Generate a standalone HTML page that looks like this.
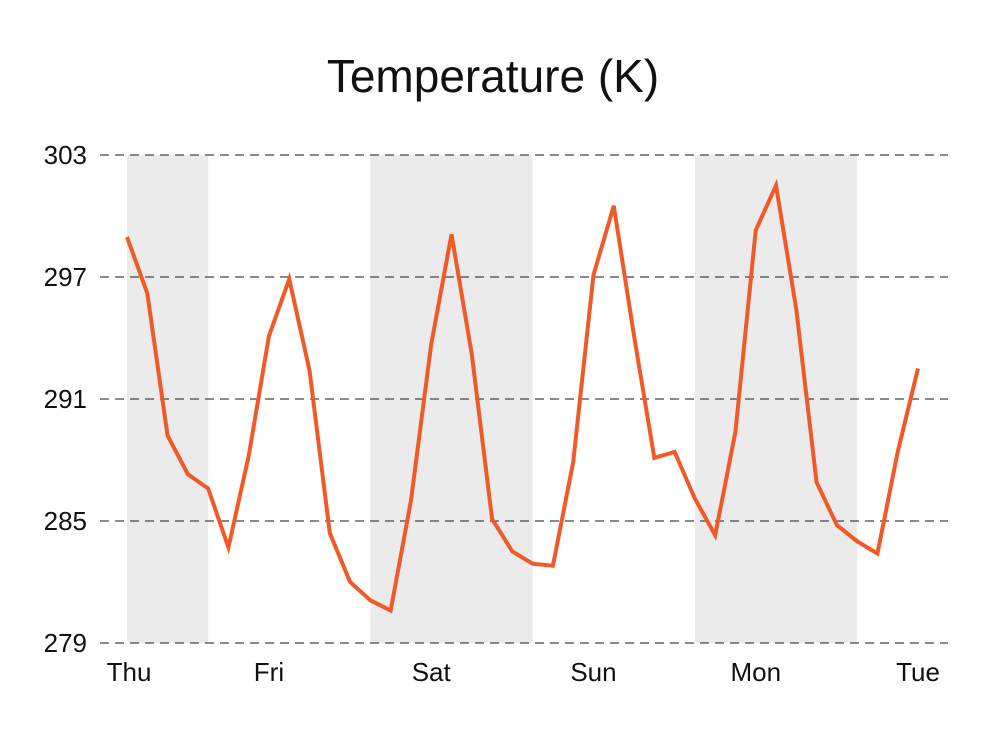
<!DOCTYPE html>
<html><head><meta charset="utf-8"><style>
html,body{margin:0;padding:0;background:#fff;width:986px;height:730px;overflow:hidden}
svg text{font-family:"Liberation Sans",sans-serif}
</style></head><body>
<svg id="chart" width="986" height="730" xmlns="http://www.w3.org/2000/svg">
<text x="493" y="92" text-anchor="middle" font-size="46" fill="#111">Temperature (K)</text>
<g id="bands"></g><g id="grid"></g><g id="ylabels"></g><g id="xlabels"></g><g id="series"></g>
</svg>
<script>
const temps=[298.97,296.2,289.2,287.3,286.6,283.7,288.2,294.1,296.9,292.4,284.4,282.0,281.1,280.6,286.0,293.7,299.1,293.2,285.1,283.5,282.9,282.8,287.9,297.1,300.5,294.1,288.1,288.4,286.1,284.3,289.4,299.3,301.5,295.4,286.9,284.8,284.0,283.4,288.4,292.5];
const yTicks=[279,285,291,297,303];
const dayLabels=["Thu","Fri","Sat","Sun","Mon","Tue"];
const dayIndex=[0.1,7,15,23,31,39];
const shadeStart=[0,12,28];
const shadeEnd=[4,20,36];
const NS="http://www.w3.org/2000/svg";
const x0=127,x1=918,yB=643,yT=155;
function X(i){return x0+i*(x1-x0)/(temps.length-1);}
function Y(v){return yB-(v-279)*(yB-yT)/(303-279);}
function mk(t,a,p){const e=document.createElementNS(NS,t);for(const k in a)e.setAttribute(k,a[k]);document.getElementById(p).appendChild(e);return e;}
shadeStart.forEach((s,k)=>{
 const r=mk('rect',{x:X(s),y:yT,width:X(shadeEnd[k])-X(s),height:yB-yT,fill:'#ebebeb'},'bands');
 
 
});
yTicks.forEach(v=>{
 const l=mk('line',{x1:100,x2:948,y1:Y(v),y2:Y(v),stroke:'#444','stroke-width':1.2,'stroke-dasharray':'9 6'},'grid');
 
 
 const t=mk('text',{x:87,y:Y(v)+9,'text-anchor':'end','font-size':26,fill:'#111'},'ylabels');
 t.textContent=v;
 
 
});
dayLabels.forEach((d,k)=>{
 const t=mk('text',{x:X(dayIndex[k]),y:681,'text-anchor':'middle','font-size':26,fill:'#111'},'xlabels');
 t.textContent=d;
 
 
});
const p=mk('polyline',{points:temps.map((v,i)=>X(i)+','+Y(v)).join(' '),fill:'none',stroke:'#f05a28','stroke-width':4,'stroke-linejoin':'miter'},'series');


</script>
</body></html>
